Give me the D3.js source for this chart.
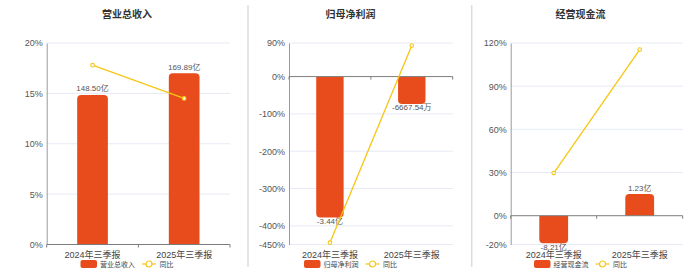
<!DOCTYPE html>
<html>
<head>
<meta charset="utf-8">
<script src="https://cdn.jsdelivr.net/npm/d3@7/dist/d3.min.js"></script>
<style>
  html, body { margin: 0; padding: 0; background: #fff; }
  svg { display: block; font-family: "Liberation Sans", "Noto Sans CJK SC", sans-serif; }
</style>
</head>
<body>
<svg id="chart" width="700" height="272"></svg>
<script>
// Reporting periods shared by all three panels
const periods = ["2024年三季报", "2025年三季报"];

// 营业总收入 (亿元) and year-on-year change (%)
const revenueValues = [148.50, 169.89];
const revenueLabels = ["148.50亿", "169.89亿"];
const revenueYoY = [17.8, 14.5];
const revenueTicks = [0, 5, 10, 15, 20];
const revenueBarDomain = [0, 200];

// 归母净利润 (亿元) and year-on-year change (%)
const profitValues = [-3.44, -0.666754];
const profitLabels = ["-3.44亿", "-6667.54万"];
const profitYoY = [-445, 83];
const profitTicks = [90, 0, -100, -200, -300, -400, -450];
const profitBarDomain = [-4.1, 0.82];

// 经营现金流 (亿元) and year-on-year change (%)
const cashValues = [-8.21, 1.23];
const cashLabels = ["-8.21亿", "1.23亿"];
const cashYoY = [29.6, 115.4];
const cashTicks = [120, 90, 60, 30, 0, -20];
const cashBarDomain = [-8.6, 0, 9.8];

const panels = [
  { title: "营业总收入", values: revenueValues, labels: revenueLabels, yoy: revenueYoY,
    ticks: revenueTicks, barDomain: revenueBarDomain, left: 46.7, right: 230, cx: 127 },
  { title: "归母净利润", values: profitValues, labels: profitLabels, yoy: profitYoY,
    ticks: profitTicks, barDomain: profitBarDomain, left: 289, right: 452.7, cx: 350.5 },
  { title: "经营现金流", values: cashValues, labels: cashLabels, yoy: cashYoY,
    ticks: cashTicks, barDomain: cashBarDomain, left: 510.7, right: 682.7, cx: 580.5 }
];

const BAR = "#E84C1C";
const LINE = "#F6C614";
const TOP = 43, BOTTOM = 244.5;

const svg = d3.select("#chart");

// panel separators
[248, 471.7].forEach(x => {
  svg.append("line").attr("x1", x).attr("x2", x).attr("y1", 5).attr("y2", 267)
    .attr("stroke", "#dcdcdc").attr("stroke-width", 1.5);
});

// bar path with rounded corners at the end away from the baseline
function barPath(x, w, y0, y1, r) {
  const h = Math.abs(y1 - y0);
  r = Math.min(r, h, w / 2);
  if (y1 < y0) {
    return `M${x},${y0}V${y1 + r}Q${x},${y1} ${x + r},${y1}H${x + w - r}Q${x + w},${y1} ${x + w},${y1 + r}V${y0}Z`;
  }
  return `M${x},${y0}V${y1 - r}Q${x},${y1} ${x + r},${y1}H${x + w - r}Q${x + w},${y1} ${x + w},${y1 - r}V${y0}Z`;
}

panels.forEach(p => {
  const g = svg.append("g");
  const tickExtent = d3.extent(p.ticks);
  const y = d3.scaleLinear().domain(tickExtent).range([BOTTOM, TOP]);
  const barRange = p.barDomain.length === 3 ? [BOTTOM, y(0), TOP] : [BOTTOM, TOP];
  const yBar = d3.scaleLinear().domain(p.barDomain).range(barRange);
  const x = d3.scaleBand().domain(periods).range([p.left, p.right]).padding(0);
  const bw = x.bandwidth() * 0.335;
  const zeroY = y(0);

  // title
  g.append("text").attr("x", p.cx).attr("y", 17.5).attr("text-anchor", "middle")
    .attr("font-size", 10).attr("font-weight", "bold").attr("fill", "#333").text(p.title);

  // horizontal grid lines
  g.selectAll(".grid").data(p.ticks.filter(t => t !== 0)).join("line")
    .attr("x1", p.left).attr("x2", p.right)
    .attr("y1", d => y(d)).attr("y2", d => y(d))
    .attr("stroke", "#e6eaf3").attr("stroke-width", 1);

  // y axis
  const yAxis = d3.axisLeft(y).tickValues(p.ticks).tickSize(0).tickPadding(4)
    .tickFormat(d => d + "%");
  const ya = g.append("g").attr("transform", `translate(${p.left},0)`).call(yAxis);
  ya.select(".domain").attr("stroke", "#9a9a9a");
  ya.selectAll("text").attr("font-size", 9).attr("fill", "#555")
    .attr("font-family", "Liberation Sans, Noto Sans CJK SC, sans-serif");

  // bars
  g.selectAll(".bar").data(p.values).join("path")
    .attr("d", (d, i) => barPath(x(periods[i]) + (x.bandwidth() - bw) / 2, bw, zeroY, yBar(d), 4))
    .attr("fill", BAR);

  // x axis on the zero line
  const xa = g.append("g").attr("transform", `translate(0,${zeroY})`);
  xa.append("line").attr("x1", p.left).attr("x2", p.right).attr("stroke", "#7d7d7d").attr("stroke-width", 1);
  const bounds = [p.left, x(periods[1]), p.right];
  xa.selectAll(".tk").data(bounds).join("line")
    .attr("x1", d => d).attr("x2", d => d).attr("y1", 0).attr("y2", 3)
    .attr("stroke", "#7d7d7d");

  // category labels under the plot
  g.selectAll(".cat").data(periods).join("text")
    .attr("x", d => x(d) + x.bandwidth() / 2).attr("y", 257.5)
    .attr("text-anchor", "middle").attr("font-size", 9).attr("fill", "#444").text(d => d);

  // value labels
  g.selectAll(".val").data(p.values).join("text")
    .attr("x", (d, i) => x(periods[i]) + x.bandwidth() / 2)
    .attr("y", d => d >= 0 ? yBar(d) - 3.5 : yBar(d) + 6.5)
    .attr("text-anchor", "middle").attr("font-size", 8).attr("fill", "#555")
    .text((d, i) => p.labels[i]);

  // year-on-year line
  const line = d3.line().x((d, i) => x(periods[i]) + x.bandwidth() / 2).y(d => y(d));
  g.append("path").datum(p.yoy).attr("d", line)
    .attr("fill", "none").attr("stroke", LINE).attr("stroke-width", 1.3);
  g.selectAll(".pt").data(p.yoy).join("circle")
    .attr("cx", (d, i) => x(periods[i]) + x.bandwidth() / 2).attr("cy", d => y(d))
    .attr("r", 1.8).attr("fill", "#fff").attr("stroke", LINE).attr("stroke-width", 1.1);

  // legend
  const lg = g.append("g").attr("transform", `translate(${p.cx - 46.5},264)`);
  lg.append("rect").attr("x", 0).attr("y", -4).attr("width", 16.5).attr("height", 8)
    .attr("rx", 2).attr("fill", BAR);
  lg.append("text").attr("x", 19.5).attr("y", 2.5).attr("font-size", 7).attr("fill", "#444").text(p.title);
  lg.append("line").attr("x1", 61.5).attr("x2", 75.5).attr("y1", 0).attr("y2", 0)
    .attr("stroke", LINE).attr("stroke-width", 1.2);
  lg.append("circle").attr("cx", 68.5).attr("cy", 0).attr("r", 3)
    .attr("fill", "#fff").attr("stroke", LINE).attr("stroke-width", 1.2);
  lg.append("text").attr("x", 79).attr("y", 2.5).attr("font-size", 7).attr("fill", "#444").text("同比");
});
</script>
</body>
</html>
